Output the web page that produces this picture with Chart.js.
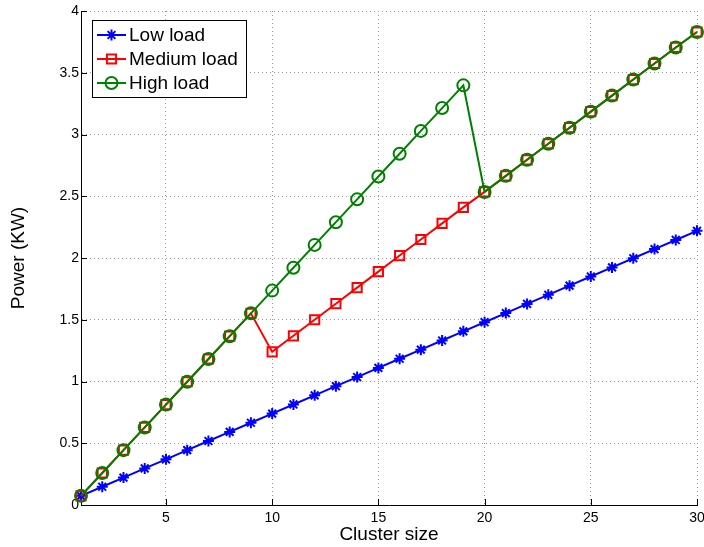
<!DOCTYPE html>
<html>
<head>
<meta charset="utf-8">
<script src="https://cdn.jsdelivr.net/npm/chart.js@4/dist/chart.umd.min.js"></script>
<style>
  html, body { margin: 0; padding: 0; background: #fff; }
  #wrap { width: 704px; height: 547px; }
</style>
</head>
<body>
<div id="wrap"><canvas id="powerChart" width="704" height="547"></canvas></div>
<script>
// Values
const clusterSizes = [1, 2, 3, 4, 5, 6, 7, 8, 9, 10, 11, 12, 13, 14, 15,
  16, 17, 18, 19, 20, 21, 22, 23, 24, 25, 26, 27, 28, 29, 30];

const lowLoad = [0.074, 0.148, 0.222, 0.296, 0.370, 0.444, 0.518, 0.592, 0.666, 0.740,
  0.814, 0.888, 0.962, 1.036, 1.110, 1.184, 1.258, 1.332, 1.406, 1.480,
  1.554, 1.628, 1.702, 1.776, 1.850, 1.924, 1.998, 2.072, 2.146, 2.220];

const mediumLoad = [0.074, 0.259, 0.444, 0.628, 0.813, 0.998, 1.182, 1.367, 1.552, 1.240,
  1.370, 1.500, 1.630, 1.760, 1.890, 2.020, 2.150, 2.280, 2.410, 2.535,
  2.665, 2.795, 2.925, 3.055, 3.185, 3.315, 3.445, 3.575, 3.705, 3.830];

const highLoad = [0.074, 0.259, 0.444, 0.628, 0.813, 0.998, 1.182, 1.367, 1.552, 1.736,
  1.921, 2.106, 2.290, 2.475, 2.660, 2.844, 3.029, 3.214, 3.398, 2.535,
  2.665, 2.795, 2.925, 3.055, 3.185, 3.315, 3.445, 3.575, 3.705, 3.830];

const seriesNames = ["Low load", "Medium load", "High load"];
const xTickValues = [5, 10, 15, 20, 25, 30];

const FONT = '"Liberation Sans", Arial, sans-serif';

function toPoints(values) {
  return clusterSizes.map((x, i) => ({ x: x, y: values[i] }));
}

// draw one marker like MATLAB ones
function drawMarker(ctx, style, x, y, r, color) {
  ctx.save();
  ctx.strokeStyle = color;
  ctx.lineWidth = 2;
  ctx.beginPath();
  if (style === "star") {
    ctx.moveTo(x - r, y); ctx.lineTo(x + r, y);
    ctx.moveTo(x, y - r); ctx.lineTo(x, y + r);
    const d = r * Math.SQRT1_2;
    ctx.moveTo(x - d, y - d); ctx.lineTo(x + d, y + d);
    ctx.moveTo(x - d, y + d); ctx.lineTo(x + d, y - d);
  } else if (style === "rect") {
    const s = r * Math.SQRT1_2;
    ctx.rect(x - s, y - s, 2 * s, 2 * s);
  } else {
    ctx.arc(x, y, r, 0, Math.PI * 2);
  }
  ctx.stroke();
  ctx.restore();
}

// tick marks pointing into the plot
const innerTicks = {
  id: "innerTicks",
  afterDatasetsDraw(chart) {
    const ctx = chart.ctx;
    const area = chart.chartArea;
    const xs = chart.scales.x, ys = chart.scales.y;
    ctx.save();
    ctx.strokeStyle = "#000";
    ctx.lineWidth = 1;
    ctx.beginPath();
    xs.ticks.forEach(t => {
      const px = Math.round(xs.getPixelForValue(t.value)) + 0.5;
      ctx.moveTo(px, area.bottom);
      ctx.lineTo(px, area.bottom - 6);
    });
    ys.ticks.forEach(t => {
      const py = Math.round(ys.getPixelForValue(t.value)) + 0.5;
      ctx.moveTo(area.left, py);
      ctx.lineTo(area.left + 6, py);
    });
    ctx.stroke();
    ctx.restore();
  }
};

// legend in a framed box, line + marker samples
const boxLegend = {
  id: "boxLegend",
  afterDraw(chart) {
    const ctx = chart.ctx;
    const area = chart.chartArea;
    const bx = area.left + 11, by = area.top + 9;
    const bw = 154, bh = 77;
    ctx.save();
    ctx.fillStyle = "#fff";
    ctx.fillRect(bx, by, bw, bh);
    ctx.strokeStyle = "#000";
    ctx.lineWidth = 1;
    ctx.strokeRect(bx + 0.5, by + 0.5, bw, bh);

    const order = [2, 1, 0]; // datasets are stored high, medium, low
    order.forEach((di, row) => {
      const ds = chart.data.datasets[di];
      const y = by + 15 + row * 24;
      ctx.strokeStyle = ds.borderColor;
      ctx.lineWidth = 2;
      ctx.beginPath();
      ctx.moveTo(bx + 5, y);
      ctx.lineTo(bx + 34, y);
      ctx.stroke();
      drawMarker(ctx, ds.pointStyle, bx + 19.5, y, ds.pointRadius, ds.borderColor);
      ctx.fillStyle = "#000";
      ctx.font = "19px " + FONT;
      ctx.textBaseline = "middle";
      ctx.textAlign = "left";
      ctx.fillText(ds.label, bx + 37, y + 1);
    });
    ctx.restore();
  }
};

const ctx = document.getElementById("powerChart");

new Chart(ctx, {
  type: "line",
  data: {
    datasets: [
      {
        label: seriesNames[2],
        data: toPoints(highLoad),
        borderColor: "#008000",
        backgroundColor: "rgba(0,0,0,0)",
        pointStyle: "circle",
        pointRadius: 6,
        order: 1
      },
      {
        label: seriesNames[1],
        data: toPoints(mediumLoad),
        borderColor: "#ff0000",
        backgroundColor: "rgba(0,0,0,0)",
        pointStyle: "rect",
        pointRadius: 6.5,
        order: 2
      },
      {
        label: seriesNames[0],
        data: toPoints(lowLoad),
        borderColor: "#0000ff",
        backgroundColor: "rgba(0,0,0,0)",
        pointStyle: "star",
        pointRadius: 5.5,
        order: 3
      }
    ].map(ds => Object.assign(ds, {
      borderWidth: 2,
      pointBorderWidth: 2,
      pointBorderColor: ds.borderColor,
      pointBackgroundColor: "rgba(0,0,0,0)",
      tension: 0,
      clip: false
    }))
  },
  options: {
    responsive: false,
    animation: false,
    devicePixelRatio: 1,
    layout: { autoPadding: false, padding: { top: 11, right: 7, bottom: 0, left: 0 } },
    plugins: {
      legend: { display: false },
      tooltip: { enabled: false }
    },
    scales: {
      x: {
        type: "linear",
        min: 1,
        max: 30,
        afterBuildTicks(scale) {
          scale.ticks = xTickValues.map(v => ({ value: v }));
        },
        afterFit(scale) {
          scale.height = 42;
          scale.paddingLeft = 0;
          scale.paddingRight = 0;
        },
        grid: { color: "#9a9a9a", lineWidth: 1, drawTicks: false },
        border: { display: true, color: "#000", width: 1, dash: [1, 3] },
        ticks: { color: "#000", padding: 5, font: { family: FONT, size: 14 }, maxRotation: 0 },
        title: {
          display: true,
          text: "Cluster size",
          color: "#000",
          font: { family: FONT, size: 19, lineHeight: 1.2 },
          padding: { top: 0, bottom: 1 }
        }
      },
      y: {
        min: 0,
        max: 4,
        ticks: {
          stepSize: 0.5,
          color: "#000",
          padding: 2,
          font: { family: FONT, size: 14 },
          callback: v => String(v)
        },
        afterFit(scale) {
          scale.width = 81;
          scale.paddingTop = 0;
          scale.paddingBottom = 0;
        },
        grid: { color: "#9a9a9a", lineWidth: 1, drawTicks: false },
        border: { display: true, color: "#000", width: 1, dash: [1, 3] },
        title: {
          display: true,
          text: "Power (KW)",
          color: "#000",
          font: { family: FONT, size: 19, lineHeight: 1.2 },
          padding: { top: 7, bottom: 0 }
        }
      }
    }
  },
  plugins: [innerTicks, boxLegend]
});
</script>
</body>
</html>
